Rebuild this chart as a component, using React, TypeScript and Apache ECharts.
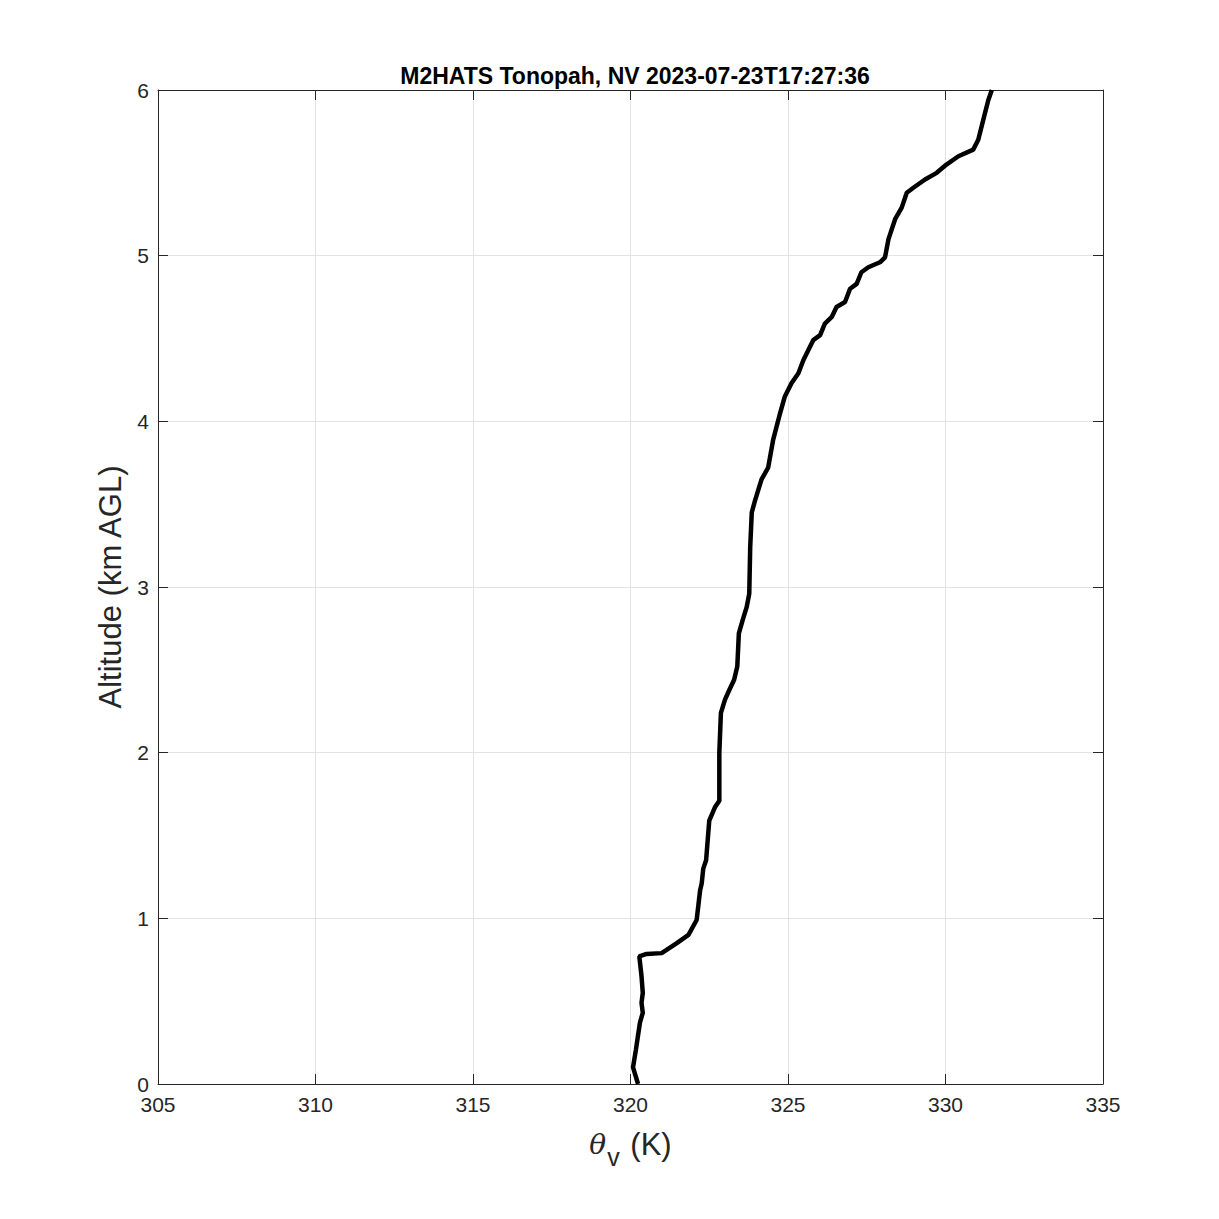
import React, { useEffect, useRef } from "react";
import * as echarts from "echarts";

const titleText = "M2HATS Tonopah, NV 2023-07-23T17:27:36";
const xTicks = [305, 310, 315, 320, 325, 330, 335];
const yTicks = [0, 1, 2, 3, 4, 5, 6];

// virtual potential temperature (K)
const thetaV = [
  320.24, 320.08, 320.17, 320.3, 320.39, 320.35, 320.39, 320.35, 320.28,
  320.51, 320.99, 321.47, 321.84, 322.1, 322.21, 322.26, 322.31, 322.4, 322.5,
  322.68, 322.82, 322.82, 322.87, 323.0, 323.14, 323.29, 323.39, 323.44, 323.56,
  323.69, 323.77, 323.8, 323.85, 323.95, 324.16, 324.37, 324.53, 324.75, 324.9,
  325.11, 325.33, 325.49, 325.8, 326.02, 326.17, 326.39, 326.54, 326.81, 326.97,
  327.18, 327.33, 327.55, 327.92, 328.08, 328.19, 328.4, 328.61, 328.77, 328.98,
  329.35, 329.72, 330.03, 330.41, 330.88, 331.04, 331.2, 331.36, 331.47,
];
// altitude (km AGL)
const altitude = [
  0.0, 0.1, 0.205, 0.37, 0.43, 0.49, 0.55, 0.65, 0.77,
  0.785, 0.79, 0.85, 0.9, 0.99, 1.17, 1.21, 1.3, 1.35, 1.59,
  1.67, 1.71, 2.0, 2.24, 2.32, 2.38, 2.44, 2.52, 2.72, 2.8,
  2.88, 2.96, 3.24, 3.45, 3.52, 3.65, 3.72, 3.89, 4.05, 4.15,
  4.23, 4.29, 4.37, 4.49, 4.52, 4.59, 4.63, 4.69, 4.72, 4.8,
  4.83, 4.9, 4.93, 4.96, 4.99, 5.1, 5.22, 5.29, 5.38, 5.41,
  5.46, 5.5, 5.55, 5.6, 5.64, 5.7, 5.82, 5.94, 6.0,
];

const FONT = "'Liberation Sans', Arial, Helvetica, sans-serif";
const AX = "#262626";

export default function App() {
  const ref = useRef<HTMLDivElement>(null);
  useEffect(() => {
    if (!ref.current) return;
    const chart = echarts.init(ref.current, undefined, { renderer: "svg" });
    const data = thetaV.map((t, i) => [t, altitude[i]]);
    const baseX = {
      type: "value" as const,
      min: xTicks[0],
      max: xTicks[xTicks.length - 1],
      interval: 5,
    };
    const baseY = {
      type: "value" as const,
      min: yTicks[0],
      max: yTicks[yTicks.length - 1],
      interval: 1,
    };
    chart.setOption({
      animation: false,
      backgroundColor: "#ffffff",
      title: {
        text: titleText,
        left: 630,
        textAlign: "center",
        top: 59,
        textStyle: { fontFamily: FONT, fontSize: 23, fontWeight: "bold", color: "#000" },
      },
      grid: { left: 158, right: 116, top: 90, bottom: 135 },
      xAxis: [
        {
          ...baseX,
          position: "bottom",
          axisLine: { show: true, onZero: false, lineStyle: { color: AX, width: 1 } },
          axisTick: { show: true, inside: true, length: 10, lineStyle: { color: AX } },
          axisLabel: { color: AX, fontFamily: FONT, fontSize: 21, margin: 10 },
          splitLine: { show: true, lineStyle: { color: "#e3e3e3", width: 1 } },
          name: "{t|θ}{s|v}{n| (K)}",
          nameLocation: "middle",
          nameGap: 36,
          nameTextStyle: {
            color: AX,
            rich: {
              t: { fontFamily: "'DejaVu Serif', 'Liberation Serif', serif", fontStyle: "italic", fontSize: 28, color: AX },
              s: { fontFamily: FONT, fontSize: 25, color: AX, padding: [24, 2, 0, 1] },
              n: { fontFamily: FONT, fontSize: 31, color: AX },
            },
          },
        },
        {
          ...baseX,
          position: "top",
          axisLine: { show: true, onZero: false, lineStyle: { color: AX, width: 1 } },
          axisTick: { show: true, inside: true, length: 10, lineStyle: { color: AX } },
          axisLabel: { show: false },
          splitLine: { show: false },
        },
      ],
      yAxis: [
        {
          ...baseY,
          position: "left",
          axisLine: { show: true, onZero: false, lineStyle: { color: AX, width: 1 } },
          axisTick: { show: true, inside: true, length: 10, lineStyle: { color: AX } },
          axisLabel: { color: AX, fontFamily: FONT, fontSize: 21, margin: 9 },
          splitLine: { show: true, lineStyle: { color: "#e3e3e3", width: 1 } },
          name: "Altitude (km AGL)",
          nameLocation: "middle",
          nameGap: 31,
          nameRotate: 90,
          nameTextStyle: { color: AX, fontFamily: FONT, fontSize: 31 },
        },
        {
          ...baseY,
          position: "right",
          axisLine: { show: true, onZero: false, lineStyle: { color: AX, width: 1 } },
          axisTick: { show: true, inside: true, length: 10, lineStyle: { color: AX } },
          axisLabel: { show: false },
          splitLine: { show: false },
        },
      ],
      series: [
        {
          type: "line",
          data,
          xAxisIndex: 0,
          yAxisIndex: 0,
          showSymbol: false,
          symbol: "none",
          lineStyle: { color: "#000", width: 4.5 },
          z: 5,
        },
      ],
    });
    return () => chart.dispose();
  }, []);
  return <div ref={ref} style={{ width: 1219, height: 1219, margin: -8 }} />;
}
